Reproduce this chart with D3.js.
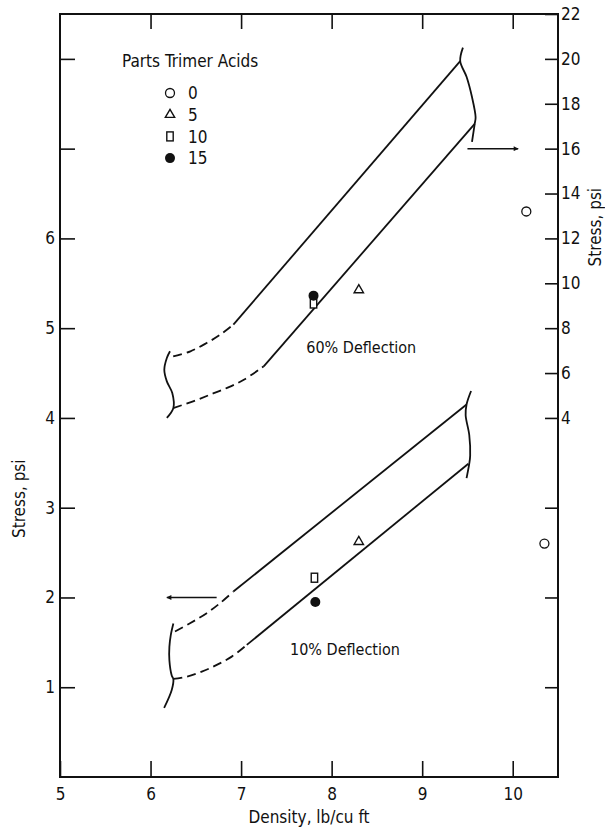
<!DOCTYPE html>
<html>
<head>
<meta charset="utf-8">
<script src="https://cdn.jsdelivr.net/npm/d3@7"></script>
<style>
  body { margin: 0; background: #fff; }
  svg text { font-family: "Liberation Sans Narrow", "Arial Narrow", "DejaVu Sans Condensed", sans-serif; fill: #111; }
</style>
</head>
<body>
<svg id="chart" width="605" height="827"></svg>
<script>
// --- Data (density lb/cu ft, stress psi) ---
const parts = [0, 5, 10, 15];
const symbolKinds = ["openCircle", "triangle", "square", "dot"];

// 60% deflection, read on right axis (psi)
const defl60Density = [10.15, 8.3, 7.8, 7.8];
const defl60Stress = [13.2, 9.7, 9.1, 9.45];
// 10% deflection, read on left axis (psi)
const defl10Density = [10.35, 8.3, 7.81, 7.82];
const defl10Stress = [2.6, 2.62, 2.22, 1.95];

// band outlines, 60% (right axis units)
const band60UpperDash = [[6.25, 6.74], [6.44, 6.97], [6.62, 7.34], [6.77, 7.71], [6.915, 8.16]];
const band60UpperSolid = [[6.915, 8.16], [9.42, 19.9]];
const band60LowerDash = [[6.25, 4.44], [6.47, 4.74], [6.66, 5.04], [6.84, 5.33], [7.03, 5.7], [7.25, 6.3]];
const band60LowerSolid = [[7.25, 6.3], [9.58, 17.1]];
const cap60Left = [[6.215, 6.97], [6.18, 6.67], [6.152, 6.15], [6.18, 5.63], [6.24, 5.11], [6.252, 4.44], [6.18, 4.0]];
const cap60Right = [[9.45, 20.5], [9.42, 19.9], [9.49, 19.2], [9.55, 18.3], [9.59, 17.4], [9.58, 17.1], [9.55, 16.3]];

// band outlines, 10% (left axis units)
const band10UpperDash = [[6.27, 1.62], [6.436, 1.713], [6.62, 1.825], [6.768, 1.937], [6.915, 2.066]];
const band10UpperSolid = [[6.915, 2.066], [9.49, 4.15]];
const band10LowerDash = [[6.252, 1.093], [6.4, 1.118], [6.566, 1.174], [6.731, 1.249], [6.897, 1.341], [7.063, 1.472]];
const band10LowerSolid = [[7.063, 1.472], [9.51, 3.49]];
const cap10Left = [[6.252, 1.709], [6.223, 1.578], [6.208, 1.45], [6.208, 1.3], [6.234, 1.13], [6.252, 1.09], [6.234, 0.97], [6.15, 0.77]];
const cap10Right = [[9.54, 4.3], [9.49, 4.15], [9.48, 4.03], [9.52, 3.81], [9.53, 3.58], [9.52, 3.49], [9.49, 3.33]];

// arrows pointing at the axis each band is read on
const arrow60 = [[9.5, 16], [10.06, 16]];
const arrow10 = [[6.73, 2.0], [6.18, 2.0]];

const xTicks = [5, 6, 7, 8, 9, 10];
const yLeftTicks = [1, 2, 3, 4, 5, 6, 7, 8];
const yLeftLabels = [1, 2, 3, 4, 5, 6];
const yRightTicks = [-8, -4, 0, 4, 6, 8, 10, 12, 14, 16, 18, 20, 22];

// --- Scales ---
const svg = d3.select("#chart");
const x = d3.scaleLinear().domain([5, 10.5]).range([60, 558]);
const y = d3.scaleLinear().domain([0, 8.5]).range([777, 14]);
// right scale: 4x left, offset so that 4 psi lines up with 4 psi
const yR = d3.scaleLinear().domain([-12, 22]).range([777, 14]);

const fontSize = 17;

// --- Frame ---
svg.append("rect")
  .attr("x", x(5))
  .attr("y", y(8.5))
  .attr("width", x(10.5) - x(5))
  .attr("height", y(0) - y(8.5))
  .attr("fill", "none")
  .attr("stroke", "#111")
  .attr("stroke-width", 2);

// --- Axes ---
const axBottom = svg.append("g")
  .attr("transform", `translate(0,${y(0)})`)
  .call(d3.axisBottom(x).tickValues(xTicks).tickSize(-16).tickPadding(11).tickFormat(d3.format("d")));

const axTop = svg.append("g")
  .attr("transform", `translate(0,${y(8.5)})`)
  .call(d3.axisTop(x).tickValues(xTicks.slice(1)).tickSize(-15).tickFormat(""));

const axLeft = svg.append("g")
  .attr("transform", `translate(${x(5)},0)`)
  .call(d3.axisLeft(y).tickValues(yLeftTicks).tickSize(-15).tickPadding(5)
    .tickFormat((d) => (yLeftLabels.includes(d) ? d : "")));

const axRight = svg.append("g")
  .attr("transform", `translate(${x(10.5)},0)`)
  .call(d3.axisRight(yR).tickValues(yRightTicks).tickSize(-13).tickPadding(3)
    .tickFormat((d) => (d >= 4 ? d : "")));

[axBottom, axTop, axLeft, axRight].forEach((a) => {
  a.select(".domain").remove();
  a.selectAll("line").attr("stroke", "#111").attr("stroke-width", 1.6);
  a.selectAll("text").attr("font-size", fontSize).attr("fill", "#111")
    .style("font-family", "'Liberation Sans Narrow', 'DejaVu Sans Condensed', sans-serif");
});

// axis titles
svg.append("text")
  .attr("x", (x(5) + x(10.5)) / 2)
  .attr("y", 823)
  .attr("text-anchor", "middle")
  .attr("font-size", fontSize)
  .text("Density,  lb/cu ft");

svg.append("text")
  .attr("transform", `translate(25,${y(3.1)}) rotate(-90)`)
  .attr("text-anchor", "middle")
  .attr("font-size", fontSize)
  .text("Stress,  psi");

svg.append("text")
  .attr("transform", `translate(601,${yR(12.5)}) rotate(-90)`)
  .attr("text-anchor", "middle")
  .attr("font-size", fontSize)
  .text("Stress,  psi");

// --- Bands ---
const lineL = d3.line().x((d) => x(d[0])).y((d) => y(d[1])).curve(d3.curveCatmullRom);
const lineR = d3.line().x((d) => x(d[0])).y((d) => yR(d[1])).curve(d3.curveCatmullRom);

const bands = svg.append("g")
  .attr("fill", "none")
  .attr("stroke", "#111")
  .attr("stroke-width", 1.8);

[band60UpperSolid, band60LowerSolid, cap60Left, cap60Right].forEach((pts) =>
  bands.append("path").attr("d", lineR(pts)));
[band60UpperDash, band60LowerDash].forEach((pts) =>
  bands.append("path").attr("d", lineR(pts)).attr("stroke-dasharray", "9,5"));

[band10UpperSolid, band10LowerSolid, cap10Left, cap10Right].forEach((pts) =>
  bands.append("path").attr("d", lineL(pts)));
[band10UpperDash, band10LowerDash].forEach((pts) =>
  bands.append("path").attr("d", lineL(pts)).attr("stroke-dasharray", "9,5"));

// --- Arrows ---
svg.append("defs").append("marker")
  .attr("id", "head")
  .attr("viewBox", "0 0 10 10")
  .attr("refX", 9)
  .attr("refY", 5)
  .attr("markerWidth", 9)
  .attr("markerHeight", 5)
  .attr("markerUnits", "userSpaceOnUse")
  .attr("orient", "auto")
  .append("path")
  .attr("d", "M0,0L10,5L0,10z")
  .attr("fill", "#111");

svg.append("path")
  .attr("d", lineR(arrow60))
  .attr("stroke", "#111").attr("stroke-width", 1.5).attr("fill", "none")
  .attr("marker-end", "url(#head)");
svg.append("path")
  .attr("d", lineL(arrow10))
  .attr("stroke", "#111").attr("stroke-width", 1.5).attr("fill", "none")
  .attr("marker-end", "url(#head)");

// --- Band labels ---
svg.append("text")
  .attr("x", x(7.72)).attr("y", yR(6.9))
  .attr("font-size", fontSize - 1)
  .text("60% Deflection");
svg.append("text")
  .attr("x", x(7.54)).attr("y", y(1.36))
  .attr("font-size", fontSize - 1)
  .text("10% Deflection");

// --- Markers ---
function drawMarker(g, kind, cx, cy) {
  if (kind === "openCircle")
    g.append("circle").attr("cx", cx).attr("cy", cy).attr("r", 4.5)
      .attr("fill", "#fff").attr("stroke", "#111").attr("stroke-width", 1.3);
  else if (kind === "dot")
    g.append("circle").attr("cx", cx).attr("cy", cy).attr("r", 5).attr("fill", "#111");
  else if (kind === "triangle")
    g.append("path").attr("transform", `translate(${cx},${cy})`)
      .attr("d", d3.symbol(d3.symbolTriangle, 38)())
      .attr("fill", "#fff").attr("stroke", "#111").attr("stroke-width", 1.4);
  else
    g.append("rect").attr("x", cx - 3.2).attr("y", cy - 4.5).attr("width", 6.4).attr("height", 9)
      .attr("fill", "#fff").attr("stroke", "#111").attr("stroke-width", 1.4);
}

const marks = svg.append("g");
// squares are drawn before the dots so the dot sits on top
parts.forEach((p, i) => drawMarker(marks, symbolKinds[i], x(defl60Density[i]), yR(defl60Stress[i])));
parts.forEach((p, i) => drawMarker(marks, symbolKinds[i], x(defl10Density[i]), y(defl10Stress[i])));

// --- Legend ---
const legend = svg.append("g").attr("transform", "translate(122,67)");
legend.append("text").attr("font-size", fontSize).text("Parts Trimer Acids");
parts.forEach((p, i) => {
  const ry = 26 + i * 21.7;
  drawMarker(legend, symbolKinds[i], 48, ry);
  legend.append("text")
    .attr("x", 66).attr("y", ry)
    .attr("dy", "0.36em")
    .attr("font-size", fontSize)
    .text(p);
});
</script>
</body>
</html>
